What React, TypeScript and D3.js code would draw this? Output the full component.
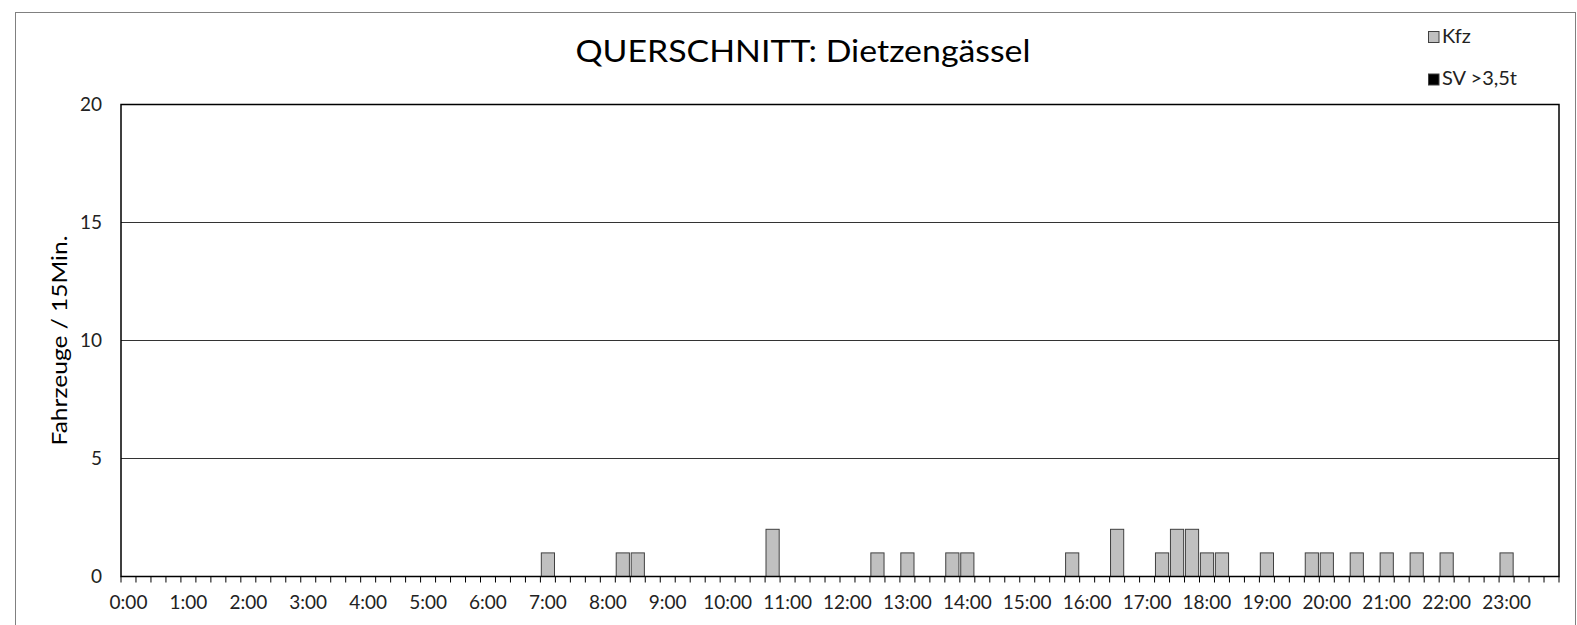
import React, { useEffect, useRef } from 'react';
import * as d3 from 'd3';

const width = 1577;
const height = 625;
const margin = { top: 104.5, right: 18, bottom: 48.5, left: 121 };

const title = 'QUERSCHNITT: Dietzengässel';
const yLabel = 'Fahrzeuge / 15Min.';
const seriesNames = ['Kfz', 'SV >3,5t'];
const seriesColors = ['#c0c0c0', '#000000'];

const hourLabels = [
  '0:00', '1:00', '2:00', '3:00', '4:00', '5:00', '6:00', '7:00',
  '8:00', '9:00', '10:00', '11:00', '12:00', '13:00', '14:00', '15:00',
  '16:00', '17:00', '18:00', '19:00', '20:00', '21:00', '22:00', '23:00'
];
const quarters = ['00', '15', '30', '45'];

// 15-minute counts, 16 per row (4 hours)
const kfz = [
  0, 0, 0, 0, 0, 0, 0, 0, 0, 0, 0, 0, 0, 0, 0, 0,
  0, 0, 0, 0, 0, 0, 0, 0, 0, 0, 0, 0, 1, 0, 0, 0,
  0, 1, 1, 0, 0, 0, 0, 0, 0, 0, 0, 2, 0, 0, 0, 0,
  0, 0, 1, 0, 1, 0, 0, 1, 1, 0, 0, 0, 0, 0, 0, 1,
  0, 0, 2, 0, 0, 1, 2, 2, 1, 1, 0, 0, 1, 0, 0, 1,
  1, 0, 1, 0, 1, 0, 1, 0, 1, 0, 0, 0, 1, 0, 0, 0
];
const sv = [
  0, 0, 0, 0, 0, 0, 0, 0, 0, 0, 0, 0, 0, 0, 0, 0,
  0, 0, 0, 0, 0, 0, 0, 0, 0, 0, 0, 0, 0, 0, 0, 0,
  0, 0, 0, 0, 0, 0, 0, 0, 0, 0, 0, 0, 0, 0, 0, 0,
  0, 0, 0, 0, 0, 0, 0, 0, 0, 0, 0, 0, 0, 0, 0, 0,
  0, 0, 0, 0, 0, 0, 0, 0, 0, 0, 0, 0, 0, 0, 0, 0,
  0, 0, 0, 0, 0, 0, 0, 0, 0, 0, 0, 0, 0, 0, 0, 0
];
const yTicks = [0, 5, 10, 15, 20];

const font = 'Lato, "Noto Sans", sans-serif';

export default function App() {
  const xAxisRef = useRef<SVGGElement>(null);

  const slots = hourLabels.flatMap((h) => quarters.map((q) => h.split(':')[0] + ':' + q));
  const plotW = width - margin.left - margin.right;
  const plotH = height - margin.top - margin.bottom;

  const x = d3.scaleBand<string>().domain(slots).range([0, plotW]).paddingInner(0.12).paddingOuter(0.06);
  const y = d3.scaleLinear().domain([0, 20]).range([plotH, 0]);
  const step = x.step();

  useEffect(() => {
    const g = d3.select(xAxisRef.current);
    g.selectAll('*').remove();
    // tick marks on every 15-min boundary
    const bounds = d3.range(slots.length + 1).map((i) => i * step);
    g.selectAll('line.tick')
      .data(bounds)
      .join('line')
      .attr('class', 'tick')
      .attr('x1', (d) => d)
      .attr('x2', (d) => d)
      .attr('y1', 0)
      .attr('y2', 6)
      .attr('stroke', '#000')
      .attr('stroke-width', 1);
    g.selectAll('text')
      .data(hourLabels)
      .join('text')
      .attr('x', (d) => (x(d) ?? 0) + x.bandwidth() / 2)
      .attr('y', 32)
      .attr('text-anchor', 'middle')
      .attr('font-family', font)
      .attr('font-size', 19)
      .attr('fill', '#222')
      .text((d) => d);
  }, []);

  return (
    <svg width={width} height={height} style={{ position: 'absolute', left: 0, top: 0, background: '#fff' }}>
      <rect x={15.5} y={12.5} width={1560} height={700} fill="#fff" stroke="#808080" strokeWidth={1} />
      <text
        x={803}
        y={62}
        textAnchor="middle"
        fontFamily={font}
        fontSize={31}
        textLength={455}
        lengthAdjust="spacingAndGlyphs"
        fill="#000"
      >
        {title}
      </text>

      {/* legend */}
      {seriesNames.map((name, i) => (
        <g key={name} transform={`translate(1428, ${31 + i * 42.5})`}>
          <rect x={0.5} y={0.5} width={10.5} height={11} fill={seriesColors[i]} stroke="#404040" strokeWidth={1} />
          <text x={14} y={11.5} fontFamily={font} fontSize={20} fill="#222">
            {name}
          </text>
        </g>
      ))}

      <text
        transform={`translate(67, ${margin.top + plotH / 2}) rotate(-90)`}
        textAnchor="middle"
        fontFamily={font}
        fontSize={22}
        textLength={210}
        lengthAdjust="spacingAndGlyphs"
        fill="#000"
      >
        {yLabel}
      </text>

      <g transform={`translate(${margin.left}, ${margin.top})`}>
        {yTicks.map((t) => (
          <g key={t}>
            {t > 0 && t < 20 && <line x1={0} x2={plotW} y1={y(t)} y2={y(t)} stroke="#333" strokeWidth={1} />}
            <text x={-19} y={y(t)} dy="0.35em" textAnchor="end" fontFamily={font} fontSize={19} fill="#222">
              {t}
            </text>
          </g>
        ))}

        {slots.map((s, i) =>
          kfz[i] > 0 ? (
            <rect
              key={'k' + s}
              x={x(s)}
              y={y(kfz[i])}
              width={x.bandwidth()}
              height={y(0) - y(kfz[i])}
              fill={seriesColors[0]}
              stroke="#404040"
              strokeWidth={1}
            />
          ) : null
        )}
        {slots.map((s, i) =>
          sv[i] > 0 ? (
            <rect
              key={'s' + s}
              x={x(s)}
              y={y(sv[i])}
              width={x.bandwidth()}
              height={y(0) - y(sv[i])}
              fill={seriesColors[1]}
            />
          ) : null
        )}

        <rect x={0} y={0} width={plotW} height={plotH} fill="none" stroke="#000" strokeWidth={1.5} />
        <g ref={xAxisRef} transform={`translate(0, ${plotH})`} />
      </g>
    </svg>
  );
}
